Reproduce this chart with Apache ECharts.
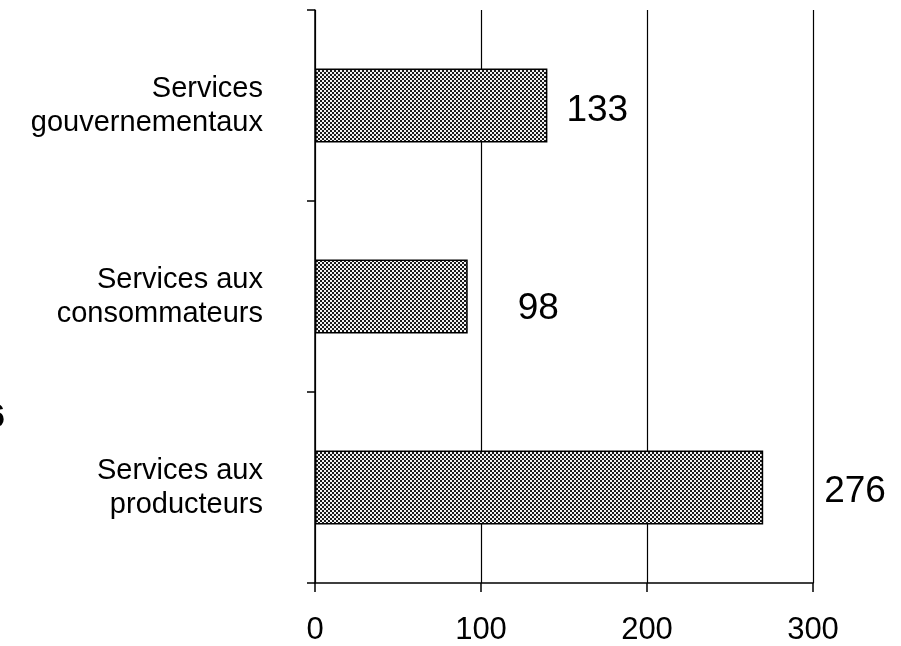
<!DOCTYPE html>
<html>
<head>
<meta charset="utf-8">
<script src="https://cdn.jsdelivr.net/npm/echarts@6/dist/echarts.min.js"></script>
<style>
  html, body { margin: 0; padding: 0; background: #fff; }
  #main { width: 901px; height: 646px; }
</style>
</head>
<body>
<div id="main"></div>
<script>
// categories, top to bottom
var categories = ['Services\ngouvernementaux', 'Services aux\nconsommateurs', 'Services aux\nproducteurs'];
// bar lengths as drawn in the picture
var barValues = [140, 92, 270];
// printed numbers next to the bars
var valueLabels = ['133', '98', '276'];
var xTicks = [0, 100, 200, 300];

// label spacing per bar (style only)
var labelGap = [19, 50, 61];
var labelDy = [5, 12, 4];

// grey dotted fill like the scanned bars
function makePattern() {
    var c = document.createElement('canvas');
    c.width = 4; c.height = 4;
    var ctx = c.getContext('2d');
    ctx.fillStyle = '#f2f2f2';
    ctx.fillRect(0, 0, 4, 4);
    ctx.fillStyle = '#1a1a1a';
    ctx.fillRect(0, 0, 2, 2);
    ctx.fillRect(2, 2, 2, 2);
    return c;
}

var font = 'Liberation Sans, Arial, sans-serif';
var myChart = echarts.init(document.getElementById('main'));

var barData = [];
for (var i = 0; i < barValues.length; i++) {
    barData.push({
        value: barValues[i],
        label: {
            distance: labelGap[i],
            offset: [0, labelDy[i]],
            formatter: valueLabels[i]
        }
    });
}

var option = {
    animation: false,
    backgroundColor: '#fff',
    grid: {
        left: 315,
        right: 88,
        top: 10,
        bottom: 61
    },
    xAxis: {
        type: 'value',
        min: xTicks[0],
        max: xTicks[xTicks.length - 1],
        interval: xTicks[1] - xTicks[0],
        axisLine: { show: true, lineStyle: { color: '#000', width: 1.5 } },
        axisTick: { show: true, length: 9, lineStyle: { color: '#000', width: 1.5 } },
        splitLine: { show: true, lineStyle: { color: '#000', width: 1.2 } },
        axisLabel: {
            color: '#000',
            fontFamily: font,
            fontSize: 31,
            margin: 32
        }
    },
    yAxis: {
        type: 'category',
        inverse: true,
        data: categories,
        axisLine: { show: true, lineStyle: { color: '#000', width: 1.5 } },
        axisTick: { show: true, length: 8, lineStyle: { color: '#000', width: 1.5 } },
        axisLabel: {
            color: '#000',
            fontFamily: font,
            fontSize: 29,
            lineHeight: 34,
            align: 'right',
            margin: 52
        }
    },
    series: [{
        type: 'bar',
        data: barData,
        barWidth: 74,
        itemStyle: {
            color: { image: makePattern(), repeat: 'repeat' },
            borderColor: '#000',
            borderWidth: 1.5
        },
        label: {
            show: true,
            position: 'right',
            color: '#000',
            fontFamily: font,
            fontSize: 37
        }
    }],
    graphic: [{
        type: 'text',
        left: -14,
        top: 401,
        style: {
            text: '6',
            fontFamily: font,
            fontSize: 34,
            fontWeight: 'bold',
            fill: '#000'
        }
    }]
};

myChart.setOption(option);
</script>
</body>
</html>
